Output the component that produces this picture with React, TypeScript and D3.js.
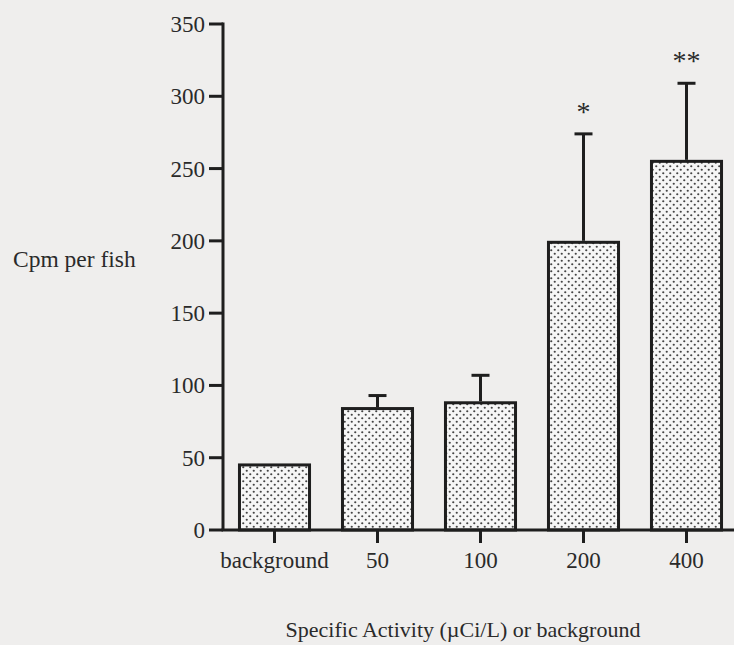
import React from "react";
import * as d3 from "d3";

const categories = ["background", "50", "100", "200", "400"];
const means = [45, 84, 88, 199, 255];
const upperErrors = [45, 93, 107, 274, 309];
const significance = ["", "", "", "*", "**"];
const yTicks = [0, 50, 100, 150, 200, 250, 300, 350];

const W = 734;
const H = 645;
const FONT = "'Liberation Serif', 'Times New Roman', serif";

export default function App() {
  const x = d3
    .scaleBand<string>()
    .domain(categories)
    .range([223, 738])
    .paddingInner(0.32)
    .paddingOuter(0.16);
  const y = d3.scaleLinear().domain([0, 350]).range([530, 24]);
  const bw = x.bandwidth();
  const capW = 18;

  return (
    <svg
      width={W}
      height={H}
      style={{ position: "absolute", left: 0, top: 0, display: "block" }}
    >
      <defs>
        <pattern id="stipple" width="7" height="7" patternUnits="userSpaceOnUse">
          <rect width="7" height="7" fill="#f6f6f6" />
          <circle cx="1.75" cy="1.75" r="1.1" fill="#444" />
          <circle cx="5.25" cy="5.25" r="1.1" fill="#444" />
        </pattern>
      </defs>
      <rect width={W} height={H} fill="#efeeed" />

      {/* bars */}
      {categories.map((c, i) => (
        <rect
          key={c}
          x={x(c)!}
          y={y(means[i])}
          width={bw}
          height={y(0) - y(means[i])}
          fill="url(#stipple)"
          stroke="#1e1e1e"
          strokeWidth={3}
        />
      ))}

      {/* error bars */}
      {categories.map((c, i) => {
        if (upperErrors[i] <= means[i]) return null;
        const cx = x(c)! + bw / 2;
        return (
          <g key={c} stroke="#1e1e1e" strokeWidth={3}>
            <line x1={cx} x2={cx} y1={y(means[i]) - 1.5} y2={y(upperErrors[i])} />
            <line x1={cx - capW / 2} x2={cx + capW / 2} y1={y(upperErrors[i])} y2={y(upperErrors[i])} />
          </g>
        );
      })}

      {/* significance marks */}
      {categories.map((c, i) =>
        significance[i] ? (
          <text
            key={c}
            x={x(c)! + bw / 2}
            y={y(upperErrors[i]) - 13}
            textAnchor="middle"
            fontFamily={FONT}
            fontSize={28}
            fill="#2a2a2a"
          >
            {significance[i]}
          </text>
        ) : null
      )}

      {/* y axis */}
      <line x1={223} x2={223} y1={y(350) - 1.5} y2={y(0)} stroke="#1e1e1e" strokeWidth={3} />
      {yTicks.map((t) => (
        <g key={t}>
          <line x1={209} x2={223} y1={y(t)} y2={y(t)} stroke="#1e1e1e" strokeWidth={3} />
          <text
            x={205}
            y={y(t)}
            dy="0.35em"
            textAnchor="end"
            fontFamily={FONT}
            fontSize={23}
            fill="#2a2a2a"
          >
            {t}
          </text>
        </g>
      ))}

      {/* x axis */}
      <line x1={221.5} x2={W} y1={y(0)} y2={y(0)} stroke="#1e1e1e" strokeWidth={3} />
      {categories.map((c) => {
        const cx = x(c)! + bw / 2;
        return (
          <g key={c}>
            <line x1={cx} x2={cx} y1={y(0)} y2={y(0) + 13} stroke="#1e1e1e" strokeWidth={3} />
            <text
              x={cx}
              y={568}
              textAnchor="middle"
              fontFamily={FONT}
              fontSize={23}
              fill="#2a2a2a"
            >
              {c}
            </text>
          </g>
        );
      })}

      {/* axis titles */}
      <text x={13} y={267} fontFamily={FONT} fontSize={23.5} fill="#2a2a2a">
        Cpm per fish
      </text>
      <text
        x={463}
        y={637}
        textAnchor="middle"
        fontFamily={FONT}
        fontSize={22}
        fill="#2a2a2a"
      >
        Specific Activity (µCi/L) or background
      </text>
    </svg>
  );
}
